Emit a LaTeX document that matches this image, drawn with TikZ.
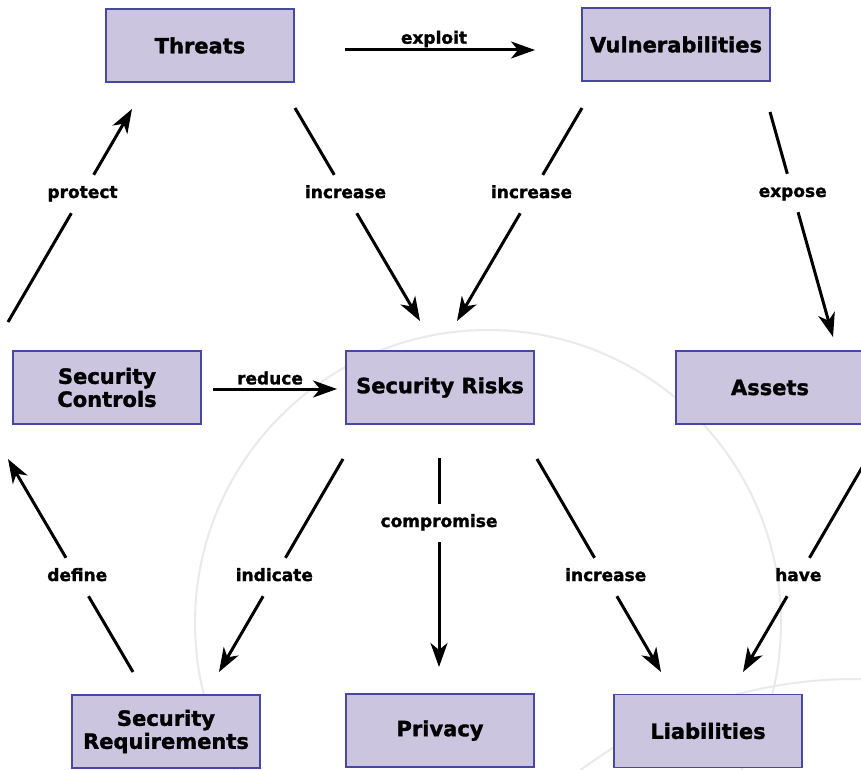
\documentclass[tikz,border=0pt]{standalone}
\usepackage{fontspec}
\setmainfont{DejaVu Sans}[BoldFeatures={FakeBold=1.5}]
\usetikzlibrary{arrows.meta}
\definecolor{boxfill}{RGB}{203,197,224}
\definecolor{boxline}{RGB}{72,72,160}
\definecolor{faint}{RGB}{234,234,234}
\begin{document}
\begin{tikzpicture}[x=1pt,y=-1pt,
  concept/.style={draw=boxline, fill=boxfill, line width=1.4pt,
    minimum width=188pt, minimum height=73pt, inner sep=0pt, align=center,
    font=\fontsize{21}{23}\selectfont\bfseries},
  lab/.style={inner sep=11pt, text height=12pt, text depth=4pt,
    font=\fontsize{17}{20}\selectfont\bfseries},
  toplab/.style={inner sep=0pt, font=\fontsize{17}{20}\selectfont\bfseries},
  conn/.style={line width=3pt},
  arr/.style={conn, -{Stealth[length=24pt,width=17pt,inset=7pt]}},
  bgcircle/.style={draw=faint, line width=2pt}]
\useasboundingbox (0,0) rectangle (861,770);
\clip (0,0) rectangle (861,770);
\fill[white] (0,0) rectangle (861,770);

% faint background circles
\draw[bgcircle] (488,623) circle [radius=293pt];
\draw[bgcircle] (855,1138) circle [radius=459pt];

% concepts
\node[concept] (threats)  at (200,45.5)  {Threats};
\node[concept] (vuln)     at (676,44.5)  {Vulnerabilities};
\node[concept] (controls) at (107,387.5) {Security\\Controls};
\node[concept] (risks)    at (440,387.5) {Security Risks};
\node[concept] (assets)   at (770,387.5) {Assets};
\node[concept] (req)      at (166,731.5) {Security\\Requirements};
\node[concept] (privacy)  at (440,730.5) {Privacy};
\node[concept] (liab)     at (708,731)   {Liabilities};

% connector end points
\coordinate (exS) at (345,50);  \coordinate (exE) at (535,50);
\coordinate (reS) at (213,389); \coordinate (reE) at (337,389);
\coordinate (prS) at (8,322);   \coordinate (prE) at (132,109);
\coordinate (deS) at (133,672); \coordinate (deE) at (8,459);
\coordinate (i1S) at (295,108); \coordinate (i1E) at (420,321);
\coordinate (i2S) at (582,108); \coordinate (i2E) at (457,321);
\coordinate (ePS) at (770,112); \coordinate (ePE) at (833,337);
\coordinate (inS) at (343,459); \coordinate (inE) at (219,672);
\coordinate (coS) at (439,458); \coordinate (coE) at (439,667);
\coordinate (i3S) at (537,459); \coordinate (i3E) at (661,672);
\coordinate (haS) at (867,459); \coordinate (haE) at (743,672);

% label nodes on the connectors
\path (prS) -- node[lab, pos=0.601] (lprot) {protect} (prE);
\path (deS) -- node[lab, pos=0.446] (ldef)  {define} (deE);
\path (i1S) -- node[lab, pos=0.404] (linc1) {increase} (i1E);
\path (i2S) -- node[lab, pos=0.404] (linc2) {increase} (i2E);
\path (ePS) -- node[lab, pos=0.36]  (lexp)  {expose} (ePE);
\path (inS) -- node[lab, pos=0.554] (lind)  {indicate} (inE);
\path (coS) -- node[lab, pos=0.311] (lcom)  {compromise} (coE);
\path (i3S) -- node[lab, pos=0.554] (linc3) {increase} (i3E);
\path (haS) -- node[lab, pos=0.554] (lhave) {have} (haE);
\node[toplab] (lexploit) at (434,39) {exploit};
\node[toplab] (lreduce)  at (270,378) {reduce};

% connectors
\draw[arr] (exS) -- (exE);
\draw[arr] (reS) -- (reE);
\foreach \s/\l/\e in {prS/lprot/prE, deS/ldef/deE, i1S/linc1/i1E, i2S/linc2/i2E,
  ePS/lexp/ePE, inS/lind/inE, coS/lcom/coE, i3S/linc3/i3E, haS/lhave/haE}{
  \draw[conn] (\s) -- (\l);
  \draw[arr] (\l) -- (\e);
}
\end{tikzpicture}
\end{document}
